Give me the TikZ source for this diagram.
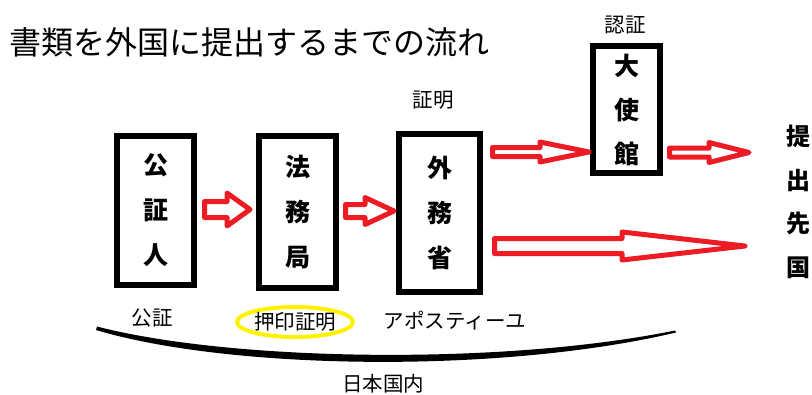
\documentclass[tikz,border=0pt]{standalone}
\usepackage{fontspec}
\newfontfamily\jp{Noto Sans CJK JP}
\usetikzlibrary{calc,shapes.geometric}
\definecolor{pred}{RGB}{237,28,36}
\definecolor{pyel}{RGB}{255,242,0}
\tikzset{
  office/.style={draw=black, line width=6.5pt, rectangle, align=center, inner sep=0pt,
    font=\jp\bfseries\fontsize{25}{45}\selectfont},
  lbl/.style={font=\jp\fontsize{20.5}{24}\selectfont, inner sep=0pt},
  blockarrow/.style={draw=pred, fill=white, line width=5pt, line join=round}
}
\newcommand\hollowarrow[5]{%
  \draw[blockarrow] ($(#1)+(0,-#3)$) -- ($(#2)+(-#5,-#3)$) -- ($(#2)+(-#5,-#4)$) -- (#2)
    -- ($(#2)+(-#5,#4)$) -- ($(#2)+(-#5,#3)$) -- ($(#1)+(0,#3)$) -- cycle;}
\begin{document}
\begin{tikzpicture}[x=1pt,y=-1pt]
\useasboundingbox (0,0) rectangle (812,394);
% title
\node[anchor=west, inner sep=0pt, font=\jp\fontsize{32}{36}\selectfont] (title) at (9,42) {書類を外国に提出するまでの流れ};
% boxes
\node[office, minimum width=77, minimum height=149] (kosho) at (155.5,210.5) {公\\証\\人};
\node[office, minimum width=77, minimum height=152] (homu) at (297.5,212) {法\\務\\局};
\node[office, minimum width=81, minimum height=158] (gaimu) at (439.5,213) {外\\務\\省};
\node[office, minimum width=67, minimum height=127, font=\jp\bfseries\fontsize{25}{44}\selectfont] (taishi) at (626.5,109.5) {大\\使\\館};
\node[align=center, inner sep=0pt, font=\jp\bfseries\fontsize{24}{43.5}\selectfont] (teishutsu) at (798,202) {提\\出\\先\\国};
% labels
\node[lbl] (l1) at (433,100) {証明};
\node[lbl] (l2) at (625,25) {認証};
\node[lbl] (l3) at (152,318) {公証};
\node[lbl, draw=pyel, line width=4pt, ellipse, minimum width=111, minimum height=30] (l4) at (295,322) {押印証明};
\node[lbl] (l5) at (455,321) {アポスティーユ};
\node[lbl] (l6) at (383,384) {日本国内};
% arrows
\coordinate (a1s) at (204.5,209.5); \coordinate (a1e) at (250,209.5);
\coordinate (a2s) at (345.5,211);   \coordinate (a2e) at (394,211);
\coordinate (a3s) at (492.5,152);   \coordinate (a3e) at (589,152);
\coordinate (a4s) at (494.5,246);   \coordinate (a4e) at (745,246);
\coordinate (a5s) at (669.5,152.5); \coordinate (a5e) at (749,152.5);
\hollowarrow{a1s}{a1e}{8}{16.5}{23}
\hollowarrow{a2s}{a2e}{6.5}{13.5}{29}
\hollowarrow{a3s}{a3e}{4.5}{10}{49}
\hollowarrow{a4s}{a4e}{7.5}{14}{123}
\hollowarrow{a5s}{a5e}{4.5}{10}{40}
% domestic curve
\fill[black] (97,326.5) .. controls (230,361) and (500,366) .. (675,330.5)
  -- (676,332.5) .. controls (500,374) and (230,370) .. (96,330) -- cycle;
\end{tikzpicture}
\end{document}
